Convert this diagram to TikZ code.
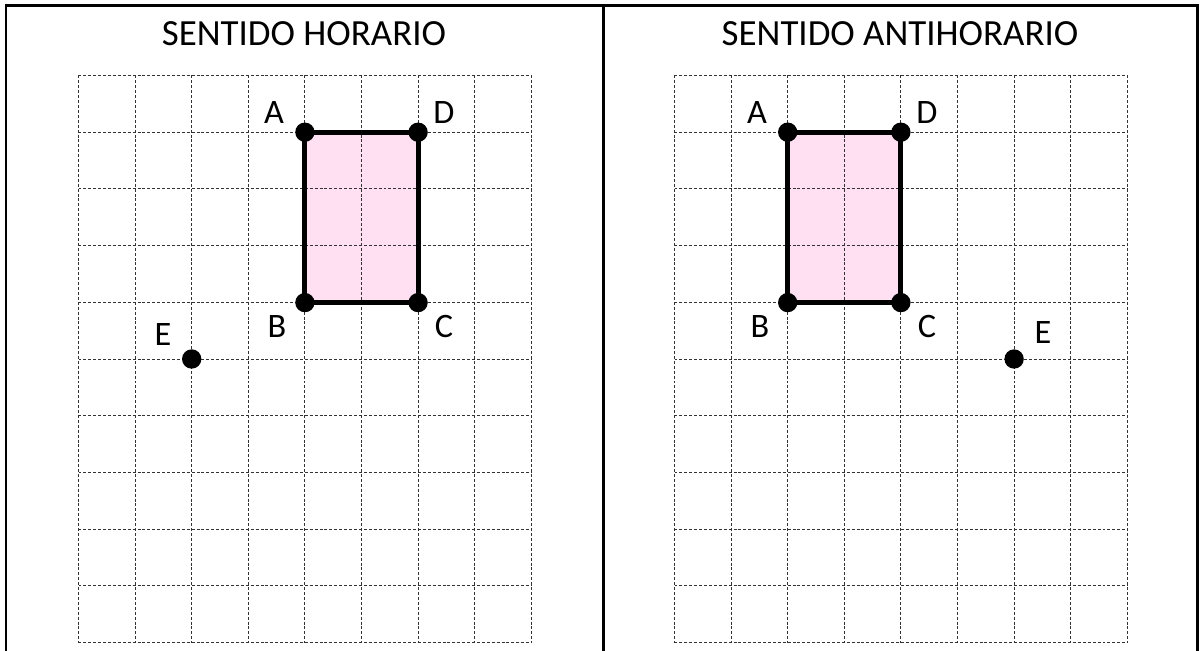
\documentclass[tikz,border=0pt]{standalone}
\usepackage{fontspec}
\setmainfont{Carlito}
\definecolor{rectpink}{RGB}{255,224,243}
\begin{document}
\begin{tikzpicture}[x=0.02cm, y=-0.02cm,
  gridline/.style={black!80, line width=0.55pt, dash pattern=on 1.7pt off 1.1pt},
  vertex/.style={circle, fill=black, inner sep=0pt, minimum size=11pt},
  letter/.style={inner sep=0pt, font=\fontsize{19.5}{23}\selectfont},
  title/.style={inner sep=0pt, font=\fontsize{21}{25}\selectfont}]
\useasboundingbox (0,0) rectangle (1200,651);
\clip (0,0) rectangle (1200,651);
% frame
\draw [line width=1.7pt] (6,700) -- (6,6) -- (1197,6) -- (1197,700);
\draw [line width=1.7pt] (603,6) -- (603,700);
\node [title] (thor) at (304,34) {SENTIDO HORARIO};
\node [title] (tanti) at (900,34) {SENTIDO ANTIHORARIO};
% vertices
\coordinate (hA) at (304.9,132.2);
\coordinate (hD) at (418.1,132.2);
\coordinate (hB) at (304.9,302.6);
\coordinate (hC) at (418.1,302.6);
\coordinate (hE) at (191.7,359);
\coordinate (aA) at (787.7,132.2);
\coordinate (aD) at (900.9,132.2);
\coordinate (aB) at (787.7,302.6);
\coordinate (aC) at (900.9,302.6);
\coordinate (aE) at (1014.1,359);
\fill [rectpink] (hA) -- (hD) -- (hC) -- (hB) -- cycle;
\fill [rectpink] (aA) -- (aD) -- (aC) -- (aB) -- cycle;
% grids
\foreach \ox in {78.5, 674.5} {
  \foreach \i in {0,...,8}
    \draw [gridline] ({\ox+56.6*\i},75.5) -- ++(0,567);
  \foreach \j in {0,...,10}
    \draw [gridline] (\ox,{75.5+56.7*\j}) -- ++(452.8,0);
}
\draw [line width=2.9pt, line join=round] (hA) -- (hD) -- (hC) -- (hB) -- cycle;
\draw [line width=2.9pt, line join=round] (aA) -- (aD) -- (aC) -- (aB) -- cycle;
\foreach \p in {hA,hB,hC,hD,hE,aA,aB,aC,aD,aE}
  \node [vertex] (d\p) at (\p) {};
% labels
\node [letter] (lhA) at (274,113) {A};
\node [letter] (lhD) at (444,113) {D};
\node [letter] (lhB) at (277,327) {B};
\node [letter] (lhC) at (444,327) {C};
\node [letter] (lhE) at (163,335) {E};
\node [letter] (laA) at (757,113) {A};
\node [letter] (laD) at (927,113) {D};
\node [letter] (laB) at (760,327) {B};
\node [letter] (laC) at (927,327) {C};
\node [letter] (laE) at (1043,333) {E};
\end{tikzpicture}
\end{document}
